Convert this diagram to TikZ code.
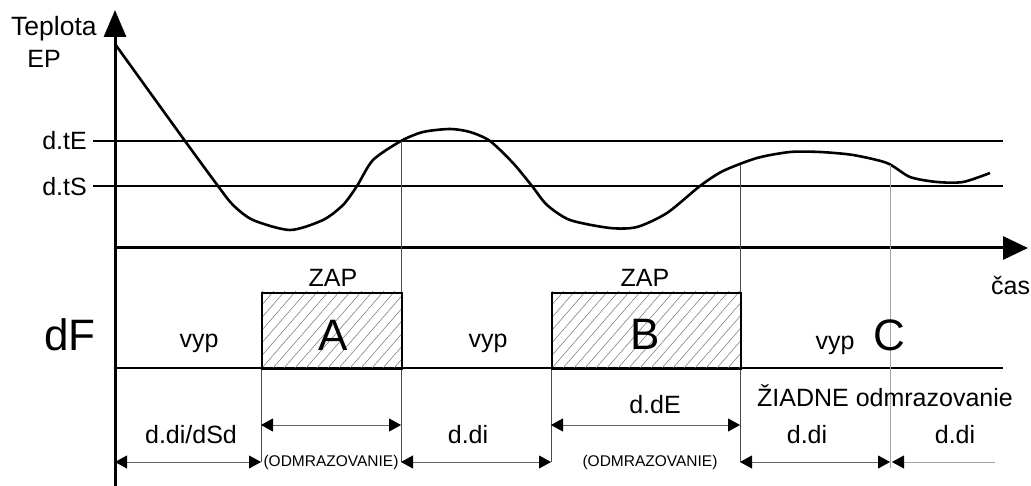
\documentclass[tikz,border=0pt]{standalone}
\usepackage{fontspec}
\setmainfont{Liberation Sans}
\usetikzlibrary{arrows.meta}
\begin{document}
\begin{tikzpicture}[x=1pt,y=-1pt,
  lbl/.style={font=\fontsize{25}{28}\selectfont, inner sep=0pt},
  big/.style={font=\fontsize{44}{46}\selectfont, inner sep=0pt},
  small/.style={font=\fontsize{15.5}{17}\selectfont, inner sep=0pt},
  axis/.style={line width=3pt},
  level/.style={line width=2pt},
  curve/.style={line width=2.6pt, line join=round},
  guide/.style={line width=0.8pt, black!70},
  faint/.style={line width=0.9pt, black!35},
  hatch/.style={line width=0.5pt, black!55},
  box/.style={draw, line width=1.6pt, minimum width=#1, minimum height=76pt, inner sep=0pt, anchor=north west},
  dim/.style={line width=0.8pt, black!60, {Triangle[length=12pt,width=13pt,color=black]}-{Triangle[length=12pt,width=13pt,color=black]}},
  dimL/.style={line width=0.8pt, black!35, {Triangle[length=12pt,width=13pt,color=black]}-}
]
\useasboundingbox (0,0) rectangle (1031,486);

% coordinates
\coordinate (ybot) at (115,486);
\coordinate (ytop) at (115,10);
\coordinate (xl) at (115,248);
\coordinate (xr) at (1028,248);
\coordinate (tEl) at (93,141);
\coordinate (tEr) at (1003,141);
\coordinate (tSl) at (93,186);
\coordinate (tSr) at (1003,186);
\coordinate (fl) at (115,368);
\coordinate (fr) at (1003,368);

% levels and axes
\draw[level] (tEl) -- (tEr);
\draw[level] (tSl) -- (tSr);
\draw[axis, -{Triangle[length=27pt,width=22pt]}] (ybot) -- (ytop);
\draw[axis, -{Triangle[length=25pt,width=23pt]}] (xl) -- (xr);
\draw[line width=2.6pt] (fl) -- (fr);

% temperature curve
\draw[curve] plot[smooth, tension=0.45] coordinates {
 (115,44) (185,141) (218,186) (233,205) (253,220) (290,230) (323,220) (343,205)
 (357,186) (373,160) (401,141) (423,132) (450,129) (470,132) (490,141) (513,163)
 (532,186) (547,205) (570,220) (610,228) (637,227) (667,213) (700,186) (723,171)
 (757,158) (790,152) (820,152) (853,155) (887,163) (910,177) (937,182)
 (963,182) (990,173)};

% guides
\coordinate (gA1) at (401,141); \coordinate (gA2) at (401,462);
\coordinate (gB1) at (740,165); \coordinate (gB2) at (740,462);
\coordinate (gC1) at (890,165); \coordinate (gC2) at (890,468);
\coordinate (gD1) at (261,292); \coordinate (gD2) at (261,462);
\coordinate (gE1) at (551,292); \coordinate (gE2) at (551,462);
\draw[guide] (gA1) -- (gA2);
\draw[guide] (gB1) -- (gB2);
\draw[faint] (gC1) -- (gC2);
\draw[guide] (gD1) -- (gD2);
\draw[guide] (gE1) -- (gE2);

% hatched boxes
\begin{scope}
\clip (261,292) rectangle (401,368);
\foreach \i in {-120,-109,...,150} \draw[hatch] (261+\i,368) -- ++(100,-115);
\end{scope}
\begin{scope}
\clip (551,292) rectangle (740,368);
\foreach \i in {-120,-109,...,200} \draw[hatch] (551+\i,368) -- ++(100,-115);
\end{scope}
\node[box=140pt] (boxA) at (261,292) {};
\node[box=189pt] (boxB) at (551,292) {};

% labels
\node[lbl, anchor=base west, font=\fontsize{26.5}{28}\selectfont] (tep) at (11,36) {Teplota};
\node[lbl, anchor=base] (ep) at (44,68) {EP};
\node[lbl, anchor=east] (lte) at (87,141) {d.tE};
\node[lbl, anchor=east] (lts) at (87,187) {d.tS};
\node[lbl, anchor=base west] (cas) at (991,295) {čas};
\node[lbl, anchor=base] (zapA) at (333,287) {ZAP};
\node[lbl, anchor=base] (zapB) at (645,287) {ZAP};
\node[big, anchor=base] (la) at (333,351) {A};
\node[big, anchor=base] (lb) at (645,350) {B};
\node[big, anchor=base] (lc) at (889,351) {C};
\node[big, anchor=base] (df) at (70,351) {dF};
\node[lbl, anchor=base] (vyp1) at (199,348) {vyp};
\node[lbl, anchor=base] (vyp2) at (488,348) {vyp};
\node[lbl, anchor=base] (vyp3) at (835,350) {vyp};

\node[lbl, anchor=base] (t1) at (191,443) {d.di/dSd};
\node[lbl, anchor=base] (t2) at (468,443) {d.di};
\node[lbl, anchor=base] (t3) at (807,443) {d.di};
\node[lbl, anchor=base] (t4) at (955,443) {d.di};
\node[lbl, anchor=base] (tde) at (655,413) {d.dE};
\node[lbl, anchor=base] (zia) at (885,406) {ŽIADNE odmrazovanie};
\node[small] (odA) at (331,462) {(ODMRAZOVANIE)};
\node[small] (odB) at (650,462) {(ODMRAZOVANIE)};

% dimension arrows
\coordinate (d1a) at (115,462); \coordinate (d1b) at (261,462);
\coordinate (d2a) at (401,462); \coordinate (d2b) at (551,462);
\coordinate (d3a) at (740,462); \coordinate (d3b) at (890,462);
\coordinate (d4a) at (892,462); \coordinate (d4b) at (995,462);
\coordinate (u1a) at (261,425); \coordinate (u1b) at (401,425);
\coordinate (u2a) at (551,425); \coordinate (u2b) at (740,425);
\draw[dim] (d1a) -- (d1b);
\draw[dim] (d2a) -- (d2b);
\draw[dim] (d3a) -- (d3b);
\draw[dimL] (d4a) -- (d4b);
\draw[dim] (u1a) -- (u1b);
\draw[dim] (u2a) -- (u2b);
\end{tikzpicture}
\end{document}
